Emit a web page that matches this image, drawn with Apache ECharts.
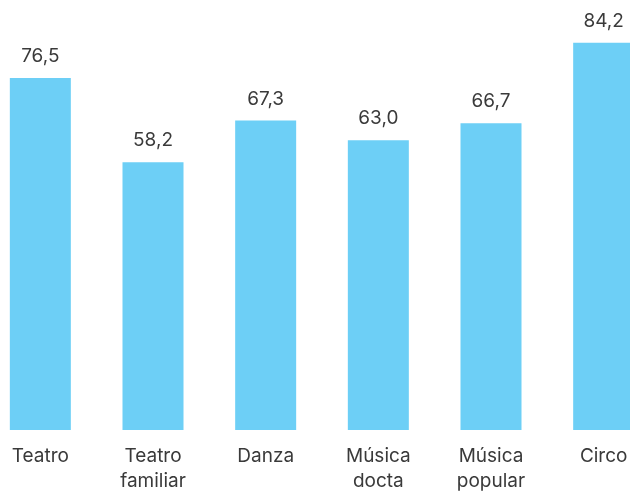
<!DOCTYPE html>
<html>
<head>
<meta charset="utf-8">
<script src="https://cdn.jsdelivr.net/npm/echarts@6/dist/echarts.min.js"></script>
<style>
html,body{margin:0;padding:0;background:#fff;overflow:hidden;width:630px;height:494px;}
#c{width:676px;height:494px;margin-left:-16px;}
</style>
</head>
<body>
<div id="c"></div>
<script>
var categories = ["Teatro", "Teatro\nfamiliar", "Danza", "Música\ndocta", "Música\npopular", "Circo"];
var values = [76.5, 58.2, 67.3, 63.0, 66.7, 84.2];

var chart = echarts.init(document.getElementById('c'), null, {renderer: 'canvas'});
chart.setOption({
  animation: false,
  backgroundColor: '#ffffff',
  grid: {left: 0, right: 0, top: 16, bottom: 59.3, containLabel: false},
  xAxis: {
    type: 'category',
    data: categories,
    axisLine: {show: false},
    axisTick: {show: false},
    axisLabel: {
      interval: 0,
      margin: 14,
      color: '#3a3a3a',
      fontFamily: 'Inter',
      fontSize: 19,
      lineHeight: 25
    }
  },
  yAxis: {
    type: 'value',
    min: 0,
    max: 90,
    show: false,
    splitLine: {show: false}
  },
  series: [{
    type: 'bar',
    data: values,
    barWidth: 61,
    itemStyle: {color: '#6DCFF6'},
    label: {
      show: true,
      position: 'top',
      distance: 12,
      color: '#3a3a3a',
      fontFamily: 'Inter',
      fontSize: 19,
      formatter: function (p) { return p.value.toFixed(1).replace('.', ','); }
    }
  }]
});
</script>
</body>
</html>
